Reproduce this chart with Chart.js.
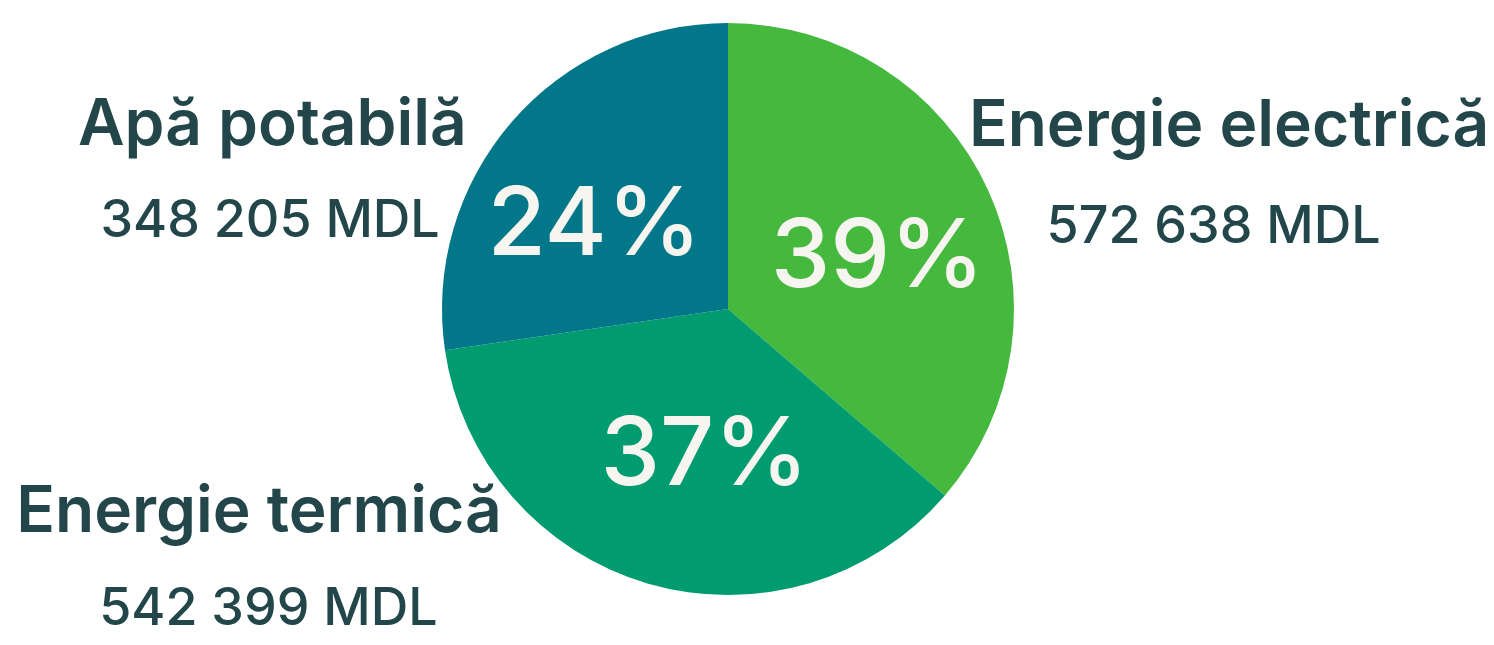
<!DOCTYPE html>
<html>
<head>
<meta charset="utf-8">
<script src="https://cdn.jsdelivr.net/npm/chart.js@4.4.1/dist/chart.umd.min.js"></script>
<style>
html,body{margin:0;padding:0;background:#ffffff;}
#wrap{width:1494px;height:645px;position:relative;}
</style>
</head>
<body>
<div id="wrap"><canvas id="c" width="1494" height="645"></canvas></div>
<script>
const categories = ["Energie electrică", "Energie termică", "Apă potabilă"];
const amounts = [572638, 542399, 348205];
const percentLabels = ["39%", "37%", "24%"];
// slice sizes as drawn in the picture (percent of the circle)
const sliceShares = [36.3, 36.4, 27.3];
const currency = "MDL";
const sliceColors = ["#45B83E", "#009B6E", "#017789"];

function fmt(n) { return String(n).replace(/\B(?=(\d{3})+(?!\d))/g, " "); }

const labelPlugin = {
  id: "sliceLabels",
  afterDatasetsDraw(chart, args, opts) {
    const ctx = chart.ctx;
    const meta = chart.getDatasetMeta(0);
    const arc0 = meta.data[0];
    const cx = arc0.x, cy = arc0.y, R = arc0.outerRadius;
    ctx.save();
    ctx.textAlign = "center";
    ctx.textBaseline = "alphabetic";
    meta.data.forEach((arc, i) => {
      const p = opts.pct[i];
      ctx.fillStyle = "#F7F5F0";
      ctx.font = "500 95px Inter";
      ctx.fillText(percentLabels[i], cx + p[0] * R, cy + p[1] * R);
      const o = opts.outer[i];
      ctx.fillStyle = "#224649";
      ctx.font = "600 64px Inter";
      ctx.fillText(categories[i], cx + o[0] * R, cy + o[1] * R);
      ctx.font = "500 52px Inter";
      ctx.fillText(fmt(amounts[i]) + " " + currency, cx + o[2] * R, cy + o[3] * R);
    });
    ctx.restore();
  }
};

new Chart(document.getElementById("c"), {
  type: "pie",
  data: {
    labels: categories,
    datasets: [{
      data: sliceShares,
      backgroundColor: sliceColors,
      borderWidth: 0
    }]
  },
  options: {
    responsive: false,
    animation: false,
    layout: { padding: { top: 23, bottom: 50, left: 0, right: 38 } },
    plugins: {
      legend: { display: false },
      tooltip: { enabled: false },
      sliceLabels: {
        pct: [[0.523, -0.077], [-0.082, 0.615], [-0.467, -0.189]],
        outer: [
          [1.752, -0.570, 1.698, -0.231],
          [-1.640, 0.780, -1.607, 1.105],
          [-1.593, -0.573, -1.601, -0.252]
        ]
      }
    }
  },
  plugins: [labelPlugin]
});
</script>
</body>
</html>
